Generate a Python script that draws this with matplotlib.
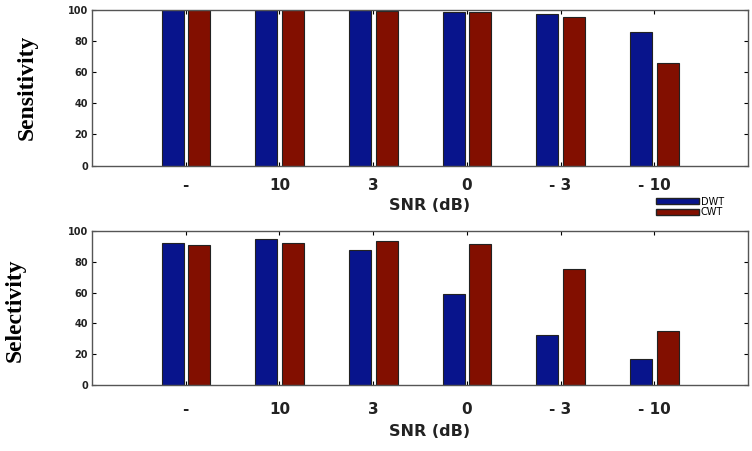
import numpy as np
import matplotlib.pyplot as plt
from matplotlib.patches import Patch

snr_labels = ['-', '10', '3', '0', '- 3', '- 10']
sens_dwt = [100, 100, 100, 98.5, 97.6, 85.9]
sens_cwt = [100, 100, 99.5, 98.5, 95.3, 65.8]
sel_dwt = [92.2, 94.8, 87.7, 59.1, 32.5, 16.7]
sel_cwt = [90.9, 92.2, 93.7, 91.4, 75.1, 35.3]

blue = '#08148c'
red = '#820f00'

fig = plt.figure(figsize=(7.52, 4.51), dpi=100)
W, H = 752, 451
ax1 = fig.add_axes([92 / W, 1 - 165.5 / H, 656 / W, 155.5 / H])
ax2 = fig.add_axes([92 / W, 1 - 385 / H, 656 / W, 154 / H])

x = np.arange(1, len(snr_labels) + 1)
w = 0.235


def draw(ax, dwt, cwt, pad, label_y):
    ax.bar(x - 0.14, dwt, w, color=blue, edgecolor='#222222', linewidth=0.8)
    ax.bar(x + 0.145, cwt, w, color=red, edgecolor='#222222', linewidth=0.8)
    ax.set_xlim(0, 7)
    ax.set_ylim(0, 100)
    ax.set_xticks(x)
    ax.set_xticklabels(snr_labels, fontsize=11, fontweight='bold', color='#222222')
    ax.set_yticks(np.arange(0, 101, 20))
    ax.set_yticklabels([str(v) for v in range(0, 101, 20)], fontsize=7,
                       fontweight='bold', color='#222222')
    ax.tick_params(axis='x', direction='in', top=True, length=3, pad=pad)
    ax.tick_params(axis='y', direction='in', right=True, length=3, pad=3)
    for s in ax.spines.values():
        s.set_color('#555555')
        s.set_linewidth(1.0)
    ax.set_xlabel('SNR (dB)', fontsize=11.5, fontweight='bold', color='#222222')
    ax.xaxis.set_label_coords((430 - 92) / 656, label_y)
    ax.xaxis.label.set_va('center')


draw(ax1, sens_dwt, sens_cwt, 9, -39.5 / 155.5)
draw(ax2, sel_dwt, sel_cwt, 12, -47 / 154)

fig.text(27 / W, 1 - 87 / H, 'Sensitivity', rotation=90, ha='center', va='center',
         fontsize=17, fontweight='bold', family='Liberation Serif')
fig.text(15 / W, 1 - 310 / H, 'Selectivity', rotation=90, ha='center', va='center',
         fontsize=17, fontweight='bold', family='Liberation Serif')

handles = [Patch(facecolor=blue, edgecolor='#222222'), Patch(facecolor=red, edgecolor='#222222')]
fig.legend(handles, ['DWT', 'CWT'], loc='center left', bbox_to_anchor=(651 / W, 1 - 207 / H),
           frameon=False, fontsize=7, handlelength=4.4, handleheight=0.55,
           handletextpad=0.2, labelspacing=0.1, borderpad=0)

fig.savefig('out.png', dpi=100)
